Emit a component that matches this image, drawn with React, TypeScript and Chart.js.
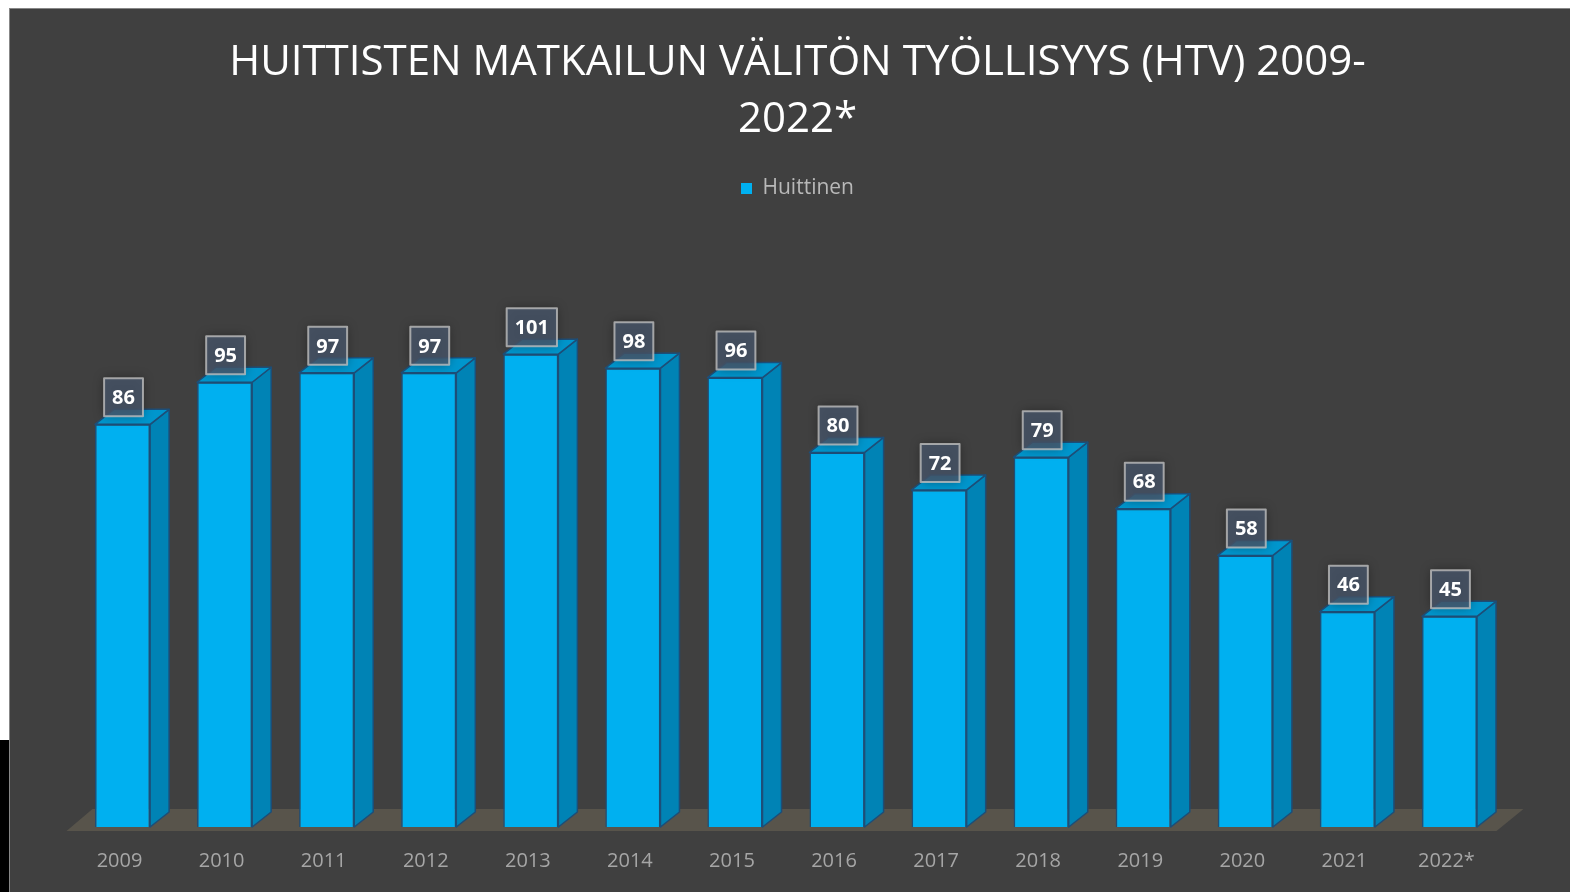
import React, { useEffect, useRef } from "react";
import { Chart, registerables } from "chart.js";

Chart.register(...registerables);

const years = ["2009", "2010", "2011", "2012", "2013", "2014", "2015", "2016", "2017", "2018", "2019", "2020", "2021", "2022*"];
const values = [86, 95, 97, 97, 101, 98, 96, 80, 72, 79, 68, 58, 46, 45];
const seriesName = "Huittinen";
const titleLines = ["HUITTISTEN MATKAILUN VÄLITÖN TYÖLLISYYS (HTV) 2009-", "2022*"];

const FONT = "'Open Sans', 'DejaVu Sans', sans-serif";
const DX = 19;
const DY = -15;

const bar3dPlugin = {
  id: "bar3d",
  beforeDatasetsDraw(chart: any) {
    const { ctx, chartArea: a } = chart;
    const y0 = chart.scales.y.getPixelForValue(0);
    ctx.save();
    ctx.fillStyle = "#58544b";
    ctx.beginPath();
    ctx.moveTo(a.left - 5, y0 + 4);
    ctx.lineTo(a.right - 4, y0 + 4);
    ctx.lineTo(a.right + 23, y0 - 18);
    ctx.lineTo(a.left + 21, y0 - 18);
    ctx.closePath();
    ctx.fill();
    ctx.restore();
  },
  afterDatasetsDraw(chart: any) {
    const { ctx } = chart;
    const meta = chart.getDatasetMeta(0);
    ctx.save();
    ctx.lineJoin = "round";
    meta.data.forEach((el: any) => {
      const { x, y, base, width } = el.getProps(["x", "y", "base", "width"], true);
      const l = x - width / 2;
      const r = x + width / 2;
      // side face
      ctx.beginPath();
      ctx.moveTo(r, y);
      ctx.lineTo(r + DX, y + DY);
      ctx.lineTo(r + DX, base + DY);
      ctx.lineTo(r, base);
      ctx.closePath();
      ctx.fillStyle = "#0083b5";
      ctx.fill();
      ctx.strokeStyle = "#1d4e78";
      ctx.lineWidth = 1.5;
      ctx.stroke();
      // top face
      ctx.beginPath();
      ctx.moveTo(l, y);
      ctx.lineTo(l + DX, y + DY);
      ctx.lineTo(r + DX, y + DY);
      ctx.lineTo(r, y);
      ctx.closePath();
      ctx.fillStyle = "#0096cd";
      ctx.fill();
      ctx.stroke();
    });
    // data labels
    ctx.font = `bold 20px ${FONT}`;
    ctx.textAlign = "center";
    ctx.textBaseline = "middle";
    meta.data.forEach((el: any, i: number) => {
      const { x, y } = el.getProps(["x", "y"], true);
      const txt = String(values[i]);
      const tw = ctx.measureText(txt).width;
      const w = tw + 16;
      const h = 38;
      const cx = x + 1;
      const cy = y - 27;
      ctx.save();
      ctx.shadowColor = "rgba(0,0,0,0.45)";
      ctx.shadowBlur = 10;
      ctx.fillStyle = "rgba(72,86,106,0.8)";
      ctx.fillRect(cx - w / 2, cy - h / 2, w, h);
      ctx.restore();
      ctx.strokeStyle = "rgba(190,190,190,0.8)";
      ctx.lineWidth = 2;
      ctx.strokeRect(cx - w / 2, cy - h / 2, w, h);
      ctx.fillStyle = "#ffffff";
      ctx.fillText(txt, cx, cy + 1);
    });
    ctx.restore();
  },
};

export default function App() {
  const ref = useRef<HTMLCanvasElement>(null);

  useEffect(() => {
    if (!ref.current) return;
    Chart.defaults.font.family = FONT;
    const chart = new Chart(ref.current, {
      type: "bar",
      data: {
        labels: years,
        datasets: [
          {
            label: seriesName,
            data: values,
            backgroundColor: "#00b0f0",
            borderColor: "#1d4e78",
            borderWidth: 1.5,
            barPercentage: 0.54,
            categoryPercentage: 1,
          },
        ],
      },
      options: {
        responsive: false,
        animation: false,
        events: [],
        layout: { padding: { top: 11, left: 61.5, right: 46.5, bottom: 0 } },
        plugins: {
          title: {
            display: true,
            text: titleLines,
            color: "#ffffff",
            font: { family: FONT, size: 42, weight: "normal", lineHeight: 1.357 },
            padding: { top: 15, bottom: 19 },
          },
          legend: {
            display: true,
            labels: {
              color: "#b8b8b8",
              font: { family: FONT, size: 21 },
              boxWidth: 11,
              boxHeight: 11,
              generateLabels: (c: any) =>
                Chart.defaults.plugins.legend.labels
                  .generateLabels(c)
                  .map((it: any) => ({ ...it, lineWidth: 0, strokeStyle: "rgba(0,0,0,0)" })),
            },
          },
          tooltip: { enabled: false },
        },
        scales: {
          x: {
            grid: { display: false, drawTicks: false },
            border: { display: false },
            ticks: {
              color: "#a6a6a6",
              font: { family: FONT, size: 20 },
              padding: 22,
              labelOffset: -3,
              maxRotation: 0,
              autoSkip: false,
            },
            afterFit: (s: any) => {
              s.height = 65;
            },
          },
          y: {
            position: "right",
            min: 0,
            max: 132,
            grid: { display: false, drawTicks: false },
            border: { display: false },
            ticks: { display: false },
            afterFit: (s: any) => {
              s.width = 23;
            },
          },
        },
      },
      plugins: [bar3dPlugin],
    });
    return () => chart.destroy();
  }, []);

  return (
    <>
      <div
        style={{
          position: "absolute",
          left: 9,
          top: 8,
          width: 1561,
          height: 884,
          boxSizing: "border-box",
          background: "#404040",
          borderLeft: "1px solid #878787",
          borderTop: "1px solid #878787",
          overflow: "hidden",
        }}
      >
        <canvas ref={ref} width={1560} height={883} style={{ display: "block" }} />
      </div>
      <div style={{ position: "absolute", left: 0, top: 740, width: 9, height: 152, background: "#000" }} />
    </>
  );
}
